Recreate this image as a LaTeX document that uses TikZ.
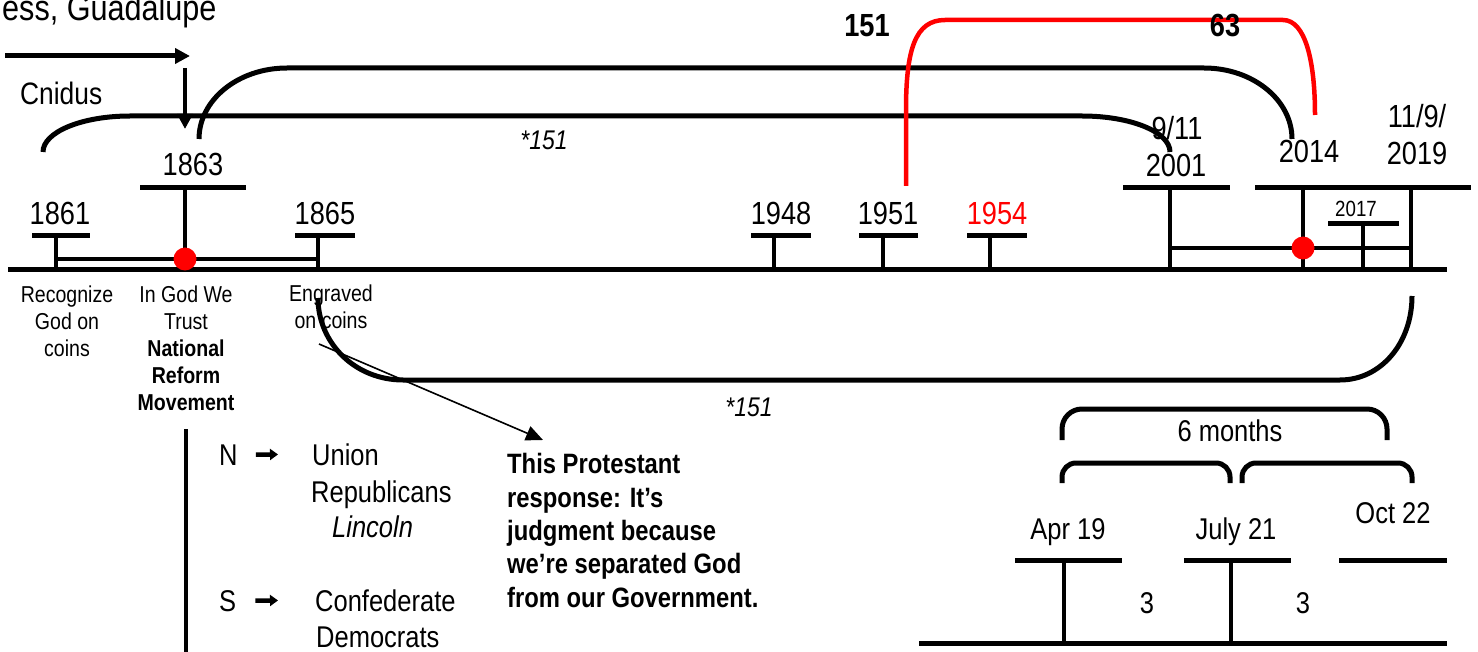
\documentclass[tikz,border=0pt]{standalone}
\usepackage{fontspec}
\setmainfont[FakeStretch=0.85]{Liberation Sans}
\usetikzlibrary{arrows.meta}

\begin{document}
\begin{tikzpicture}[x=1pt,y=-1pt,>={Triangle[length=15pt,width=15pt]},
  barln/.style={line width=5pt},
  stemln/.style={line width=4.5pt},
  redln/.style={line width=4.5pt,red},
  ptr/.style={line width=1.6pt,-{Triangle[length=17pt,width=15pt]}},
  harr/.style={line width=4.5pt,-{Triangle[length=8pt,width=11pt]}},
  reddot/.style={circle,fill=red,inner sep=0pt,minimum size=23pt},
  lbl/.style={inner sep=0pt,anchor=base},
  yr/.style={lbl,font=\fontsize{32}{36}\selectfont},
  mid/.style={lbl,font=\fontsize{30}{36}\selectfont},
  note/.style={lbl,align=center,font=\fontsize{23}{27}\selectfont},
  txt/.style={lbl,anchor=base west,font=\fontsize{30}{36}\selectfont}]
\useasboundingbox (0,0) rectangle (1478,652);

% top left
\node[lbl,anchor=base west,font=\fontsize{36}{40}\selectfont] (gua) at (2,21) {ess, Guadalupe};
\node[lbl,anchor=base west,font=\fontsize{31}{34}\selectfont] (cn) at (20,105) {Cnidus};
\coordinate (a0) at (5,56);
\coordinate (a1) at (190,56);
\coordinate (d0) at (185,68);
\coordinate (d1) at (185,129);
\draw[barln,->] (a0) -- (a1);
\draw[stemln,->] (d0) -- (d1);

% brackets over the line
\draw[barln] (43,152) .. controls (43,132) and (82,116) .. (130,116) -- (1082,116)
  .. controls (1131,116) and (1170,132) .. (1170,152);
\draw[barln] (199,139) .. controls (199,100) and (238,68) .. (287,68) -- (1204,68)
  .. controls (1253,68) and (1292,100) .. (1292,139);
\draw[redln] (906,186) -- (906,110) .. controls (906,50) and (915,20) .. (945,20) -- (1283,20)
  .. controls (1305,20) and (1315,60) .. (1315,115);
\node[lbl,font=\bfseries\fontsize{32}{36}\selectfont] (k151) at (867,37) {151};
\node[lbl,font=\bfseries\fontsize{32}{36}\selectfont] (k63) at (1225,37) {63};
\node[lbl,font=\itshape\fontsize{27}{30}\selectfont] (n151a) at (544,150) {*151};

% time line
\draw[barln] (8,270) -- (1447,270);
\draw[barln] (32,236) -- (90,236) (140,188) -- (246,188) (295,236) -- (355,236);
\draw[stemln] (56,236) -- (56,270) (185,188) -- (185,270) (318,236) -- (318,270);
\draw[stemln] (56,259) -- (318,259);
\node[reddot] (dot1) at (185,259) {};
\node[yr] (y1861) at (60,225) {1861};
\node[yr] (y1863) at (193,176) {1863};
\node[yr] (y1865) at (325,225) {1865};

\draw[barln] (751,236) -- (811,236) (859,236) -- (918,236) (967,236) -- (1027,236);
\draw[stemln] (774,236) -- (774,270) (883,236) -- (883,270) (990,236) -- (990,270);
\node[yr] (y1948) at (781,225) {1948};
\node[yr] (y1951) at (888,225) {1951};
\node[yr,red] (y1954) at (997,225) {1954};

\draw[barln] (1123,188) -- (1230,188) (1255,188) -- (1471,188) (1328,224) -- (1399,224);
\draw[stemln] (1170,188) -- (1170,270) (1303,188) -- (1303,270) (1411,188) -- (1411,270)
  (1363,224) -- (1363,270);
\draw[stemln] (1170,248) -- (1411,248);
\node[reddot] (dot2) at (1303,248) {};
\node[yr] (y911) at (1177,140) {9/11};
\node[yr] (y2001) at (1176,177) {2001};
\node[yr] (y2014) at (1309,163) {2014};
\node[yr] (y119) at (1417,128) {11/9/};
\node[yr] (y2019) at (1417,165) {2019};
\node[lbl,font=\fontsize{22}{24}\selectfont] (y2017) at (1356,217) {2017};

% under the line
\node[note] (rec) at (67,356) {Recognize\\God on\\coins};
\node[note] (igwt) at (186,410) {In God We\\Trust\\\textbf{National}\\\textbf{Reform}\\\textbf{Movement}};
\node[note] (engr) at (331,329) {Engraved\\on coins};
\draw[barln] (318,298) .. controls (318,343) and (355,380) .. (403,380) -- (1340,380)
  .. controls (1381,380) and (1412,343) .. (1412,296);
\node[lbl,font=\itshape\fontsize{27}{30}\selectfont] (n151b) at (749,416) {*151};

\node[lbl,anchor=base west,align=left,font=\bfseries\fontsize{28}{33.3}\selectfont] (resp) at (507,607)
  {This Protestant\\response: It’s\\judgment because\\we’re separated God\\from our Government.};
\coordinate (p0) at (319,344);
\coordinate (p1) at (543,440);
\draw[ptr] (p0) -- (p1);

% north and south
\coordinate (v0) at (186,429);
\coordinate (v1) at (186,652);
\draw[stemln] (v0) -- (v1);
\node[txt] (N) at (219,465) {N};
\node[txt] (un) at (312,465) {Union};
\node[txt] (rep) at (311,502) {Republicans};
\node[txt,font=\itshape\fontsize{30}{36}\selectfont] (lin) at (332,537) {Lincoln};
\node[txt] (S) at (219,611) {S};
\node[txt] (conf) at (315,611) {Confederate};
\node[txt] (dem) at (316,647) {Democrats};
\draw[harr,shorten <=18pt,shorten >=34pt] (N.east) -- (un.west);
\draw[harr,shorten <=19pt,shorten >=37pt] (S.east) -- (conf.west);

% six months
\draw[barln,rounded corners=20pt] (1062,440) |- (1387,409) -- (1387,440);
\draw[barln,rounded corners=14pt] (1062,483) |- (1230,463) -- (1230,483);
\draw[barln,rounded corners=14pt] (1242,483) |- (1412,463) -- (1412,483);
\node[mid] (six) at (1230,441) {6 months};
\node[mid] (apr) at (1068,539) {Apr 19};
\node[mid] (jul) at (1236,539) {July 21};
\node[mid] (oct) at (1393,523) {Oct 22};
\draw[barln] (1015,560) -- (1122,560) (1184,560) -- (1291,560) (1339,560) -- (1447,560);
\draw[stemln] (1064,560) -- (1064,643) (1231,560) -- (1231,643);
\draw[barln] (919,643) -- (1447,643);
\node[mid] (m1) at (1147,613) {3};
\node[mid] (m2) at (1303,613) {3};
\end{tikzpicture}
\end{document}
